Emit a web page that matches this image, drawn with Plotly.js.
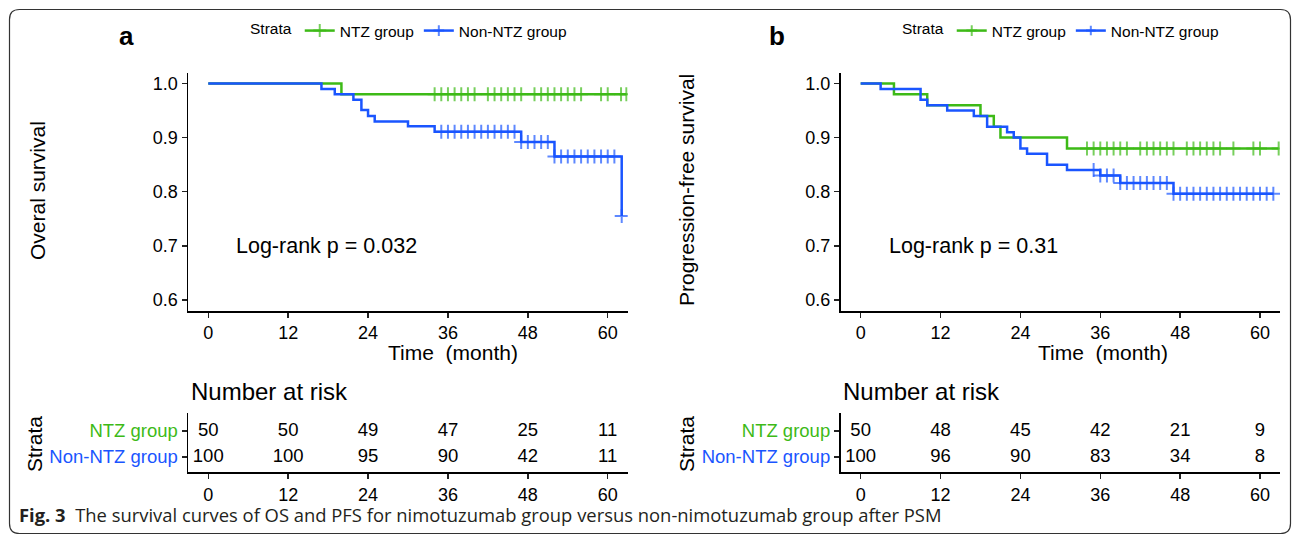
<!DOCTYPE html>
<html>
<head>
<meta charset="utf-8">
<script src="https://cdn.plot.ly/plotly-3.0.1.min.js"></script>
<style>html,body{margin:0;padding:0;background:#fff;}#chart{width:1292px;height:536px;}</style>
</head>
<body>
<div id="chart"></div>
<script>
// ---------------- DATA ----------------
const strata = ['NTZ group', 'Non-NTZ group'];
const riskTimes = [0, 12, 24, 36, 48, 60];

// Panel a: Overall survival (time in months, survival, censor flag)
const osNtzTime   = [0, 20, 34, 35, 36, 37, 38, 39, 40, 42, 43, 44, 45, 46, 47, 49, 50, 51, 52, 53, 54, 55, 56, 59, 60, 62, 62.8];
const osNtzSurv   = [1, 0.98, 0.98, 0.98, 0.98, 0.98, 0.98, 0.98, 0.98, 0.98, 0.98, 0.98, 0.98, 0.98, 0.98, 0.98, 0.98, 0.98, 0.98, 0.98, 0.98, 0.98, 0.98, 0.98, 0.98, 0.98, 0.98];
const osNtzCens   = [0, 0, 1, 1, 1, 1, 1, 1, 1, 1, 1, 1, 1, 1, 1, 1, 1, 1, 1, 1, 1, 1, 1, 1, 1, 1, 1];

const osNonTime   = [0, 17, 19, 21.8, 23, 24, 25, 30, 34, 35, 36, 37, 38, 39, 40, 41, 42, 43, 44, 45, 46, 47, 48, 49, 50, 51, 52, 53, 54, 55, 56, 57, 58, 59, 60, 61, 62.1];
const osNonSurv   = [1, 0.99, 0.98, 0.97, 0.951, 0.94, 0.93, 0.921, 0.911, 0.911, 0.911, 0.911, 0.911, 0.911, 0.911, 0.911, 0.911, 0.911, 0.911, 0.911, 0.911, 0.892, 0.892, 0.892, 0.892, 0.892, 0.865, 0.865, 0.865, 0.865, 0.865, 0.865, 0.865, 0.865, 0.865, 0.865, 0.755];
const osNonCens   = [0, 0, 0, 0, 0, 0, 0, 0, 0, 1, 1, 1, 1, 1, 1, 1, 1, 1, 1, 1, 1, 1, 1, 1, 1, 1, 1, 1, 1, 1, 1, 1, 1, 1, 1, 1, 1];

// Panel b: Progression-free survival
const pfsNtzTime  = [0, 5, 10, 18, 20, 21, 31, 34, 35, 36, 37, 38, 39, 40, 42, 43, 44, 45, 46, 47, 49, 50, 51, 52, 53, 54, 56, 59, 60, 62.8];
const pfsNtzSurv  = [1, 0.98, 0.96, 0.94, 0.92, 0.90, 0.88, 0.88, 0.88, 0.88, 0.88, 0.88, 0.88, 0.88, 0.88, 0.88, 0.88, 0.88, 0.88, 0.88, 0.88, 0.88, 0.88, 0.88, 0.88, 0.88, 0.88, 0.88, 0.88, 0.88];
const pfsNtzCens  = [0, 0, 0, 0, 0, 0, 0, 1, 1, 1, 1, 1, 1, 1, 1, 1, 1, 1, 1, 1, 1, 1, 1, 1, 1, 1, 1, 1, 1, 1];

const pfsNonTime  = [0, 3, 9, 10, 13, 17, 19, 22, 23, 24, 25, 28, 31, 35, 36, 37, 38, 39, 40, 41, 42, 43, 44, 45, 46, 47, 48, 49, 50, 51, 52, 53, 54, 55, 56, 57, 58, 59, 60, 61, 62];
const pfsNonSurv  = [1, 0.99, 0.97, 0.96, 0.95, 0.94, 0.92, 0.91, 0.90, 0.88, 0.87, 0.85, 0.84, 0.84, 0.83, 0.83, 0.83, 0.816, 0.816, 0.816, 0.816, 0.816, 0.816, 0.816, 0.816, 0.796, 0.796, 0.796, 0.796, 0.796, 0.796, 0.796, 0.796, 0.796, 0.796, 0.796, 0.796, 0.796, 0.796, 0.796, 0.796];
const pfsNonCens  = [0, 0, 0, 0, 0, 0, 0, 0, 0, 0, 0, 0, 0, 1, 1, 1, 1, 1, 1, 1, 1, 1, 1, 1, 1, 1, 1, 1, 1, 1, 1, 1, 1, 1, 1, 1, 1, 1, 1, 1, 1];

// Number at risk
const osRiskNtz  = [50, 50, 49, 47, 25, 11];
const osRiskNon  = [100, 100, 95, 90, 42, 11];
const pfsRiskNtz = [50, 48, 45, 42, 21, 9];
const pfsRiskNon = [100, 96, 90, 83, 34, 8];

const survTicks = [0.6, 0.7, 0.8, 0.9, 1.0];
const survTickText = ['0.6', '0.7', '0.8', '0.9', '1.0'];
const pValueOS = 'Log-rank p = 0.032';
const pValuePFS = 'Log-rank p = 0.31';

// ---------------- STYLE ----------------
const GREEN = '#3dba17';
const BLUE = '#1a55ff';
const FONT = 'Liberation Sans, Arial, sans-serif';
const W = 1292, H = 536;
const X = v => v / W;
const Y = v => 1 - v / H;

function kmTrace(t, s, c, name, color, xa, ya, legend, showlegend) {
  return {
    type: 'scatter', mode: 'lines+markers', x: t, y: s, name: name,
    xaxis: xa, yaxis: ya, legend: legend, showlegend: showlegend,
    line: {shape: 'hv', color: color, width: 2.5},
    marker: {symbol: 'cross-thin-open', size: c.map(f => f ? 10 : 0), color: color, line: {color: color, width: 2}},
    hoverinfo: 'skip', cliponaxis: true
  };
}
function riskTrace(counts, row, xa, ya) {
  return {
    type: 'scatter', mode: 'text', x: riskTimes, y: riskTimes.map(() => row),
    text: counts.map(String), textposition: 'middle center',
    textfont: {family: FONT, size: 18.5, color: '#000'},
    xaxis: xa, yaxis: ya, showlegend: false, hoverinfo: 'skip', cliponaxis: false
  };
}

const data = [
  kmTrace(osNtzTime, osNtzSurv, osNtzCens, strata[0], GREEN, 'x', 'y', 'legend', true),
  kmTrace(osNonTime, osNonSurv, osNonCens, strata[1], BLUE, 'x', 'y', 'legend', true),
  kmTrace(pfsNtzTime, pfsNtzSurv, pfsNtzCens, strata[0], GREEN, 'x2', 'y2', 'legend2', true),
  kmTrace(pfsNonTime, pfsNonSurv, pfsNonCens, strata[1], BLUE, 'x2', 'y2', 'legend2', true),
  riskTrace(osRiskNtz, 2, 'x3', 'y3'),
  riskTrace(osRiskNon, 1, 'x3', 'y3'),
  riskTrace(pfsRiskNtz, 2, 'x4', 'y4'),
  riskTrace(pfsRiskNon, 1, 'x4', 'y4')
];

const axBase = {
  showgrid: false, zeroline: false, showline: true, linecolor: '#000', linewidth: 1.8,
  ticks: 'outside', ticklen: 5, tickwidth: 1.5, tickcolor: '#222',
  tickfont: {family: FONT, size: 18, color: '#000'}, fixedrange: true
};
const xTime = Object.assign({}, axBase, {range: [-3, 63], tickvals: riskTimes, ticktext: riskTimes.map(String)});
const ySurv = Object.assign({}, axBase, {range: [0.58, 1.02], tickvals: survTicks, ticktext: survTickText});
const yRisk = Object.assign({}, axBase, {
  range: [0.42, 2.68], tickvals: [2, 1],
  ticktext: ['<span style="color:' + GREEN + '">' + strata[0] + '</span>', '<span style="color:' + BLUE + '">' + strata[1] + '</span>'],
  tickfont: {family: FONT, size: 18.5, color: '#000'}
});

const plotY = [Y(310.7), Y(72.7)];
const tabY = [Y(472.1), Y(413.3)];
const aX = [X(188.3), X(627.7)];
const bX = [X(840.7), X(1280)];

function rect(x0, y0, x1, y1, r) {
  return 'M' + X(x0) + ',' + Y(y0 + r) + ' Q' + X(x0) + ',' + Y(y0) + ' ' + X(x0 + r) + ',' + Y(y0) +
    ' L' + X(x1 - r) + ',' + Y(y0) + ' Q' + X(x1) + ',' + Y(y0) + ' ' + X(x1) + ',' + Y(y0 + r) +
    ' L' + X(x1) + ',' + Y(y1 - r) + ' Q' + X(x1) + ',' + Y(y1) + ' ' + X(x1 - r) + ',' + Y(y1) +
    ' L' + X(x0 + r) + ',' + Y(y1) + ' Q' + X(x0) + ',' + Y(y1) + ' ' + X(x0) + ',' + Y(y1 - r) + ' Z';
}

function ann(text, x, y, size, opts) {
  return Object.assign({text: text, x: X(x), y: Y(y), xref: 'paper', yref: 'paper', showarrow: false,
    font: {family: FONT, size: size, color: '#000'}, xanchor: 'center', yanchor: 'middle'}, opts || {});
}

const legendBase = {
  orientation: 'h', xanchor: 'left', yanchor: 'middle', bgcolor: 'rgba(0,0,0,0)',
  font: {family: FONT, size: 15.5, color: '#000'}, title: {text: 'Strata', side: 'left', font: {family: FONT, size: 15.5, color: '#000'}},
  itemclick: false, itemdoubleclick: false, tracegroupgap: 0
};

const layout = {
  width: W, height: H, margin: {l: 0, r: 0, t: 0, b: 0},
  paper_bgcolor: '#fff', plot_bgcolor: 'rgba(0,0,0,0)',
  font: {family: FONT, color: '#000'},
  xaxis: Object.assign({}, xTime, {domain: aX, anchor: 'y'}),
  yaxis: Object.assign({}, ySurv, {domain: plotY, anchor: 'x'}),
  xaxis2: Object.assign({}, xTime, {domain: bX, anchor: 'y2'}),
  yaxis2: Object.assign({}, ySurv, {domain: plotY, anchor: 'x2'}),
  xaxis3: Object.assign({}, xTime, {domain: aX, anchor: 'y3'}),
  yaxis3: Object.assign({}, yRisk, {domain: tabY, anchor: 'x3'}),
  xaxis4: Object.assign({}, xTime, {domain: bX, anchor: 'y4'}),
  yaxis4: Object.assign({}, yRisk, {domain: tabY, anchor: 'x4'}),
  legend: Object.assign({}, legendBase, {x: X(248), y: Y(31)}),
  legend2: Object.assign({}, legendBase, {x: X(900), y: Y(31)}),
  showlegend: true,
  shapes: [{type: 'path', xref: 'paper', yref: 'paper', path: rect(9.5, 9.5, 1290.5, 533.5, 10),
    line: {color: '#333', width: 1.2}, fillcolor: 'rgba(0,0,0,0)', layer: 'below'}],
  annotations: [
    ann('<b>a</b>', 126, 36, 26),
    ann('<b>b</b>', 777, 36, 26),
    {text: pValueOS, x: 3.9, y: 0.70, xref: 'x', yref: 'y', showarrow: false, xanchor: 'left', yanchor: 'middle', font: {family: FONT, size: 21.5, color: '#000'}},
    {text: pValuePFS, x: 3.9, y: 0.70, xref: 'x2', yref: 'y2', showarrow: false, xanchor: 'left', yanchor: 'middle', font: {family: FONT, size: 21.5, color: '#000'}},
    ann('Time  (month)', 453, 352, 21),
    ann('Time  (month)', 1103, 352, 21),
    ann('Overal survival', 37, 191, 21, {textangle: -90}),
    ann('Progression-free survival', 686, 190, 21, {textangle: -90}),
    ann('Number at risk', 189, 391, 24, {xanchor: 'left'}),
    ann('Number at risk', 841, 391, 24, {xanchor: 'left'}),
    ann('Strata', 34, 444, 21, {textangle: -90}),
    ann('Strata', 686, 444, 21, {textangle: -90}),
    ann('<b>Fig. 3</b>  The survival curves of OS and PFS for nimotuzumab group versus non-nimotuzumab group after PSM',
      17, 514, 18.4, {xanchor: 'left', font: {family: 'Open Sans, Noto Sans, sans-serif', size: 18.4, color: '#231f20'}})
  ]
};

Plotly.newPlot('chart', data, layout, {displayModeBar: false, staticPlot: true});
</script>
</body>
</html>
